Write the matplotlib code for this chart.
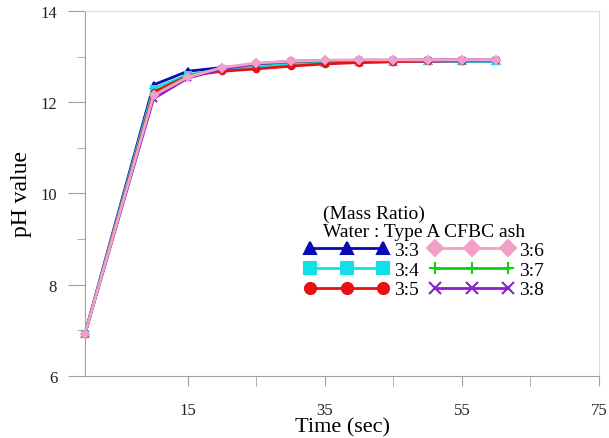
import matplotlib.pyplot as plt

plt.rcParams['font.family'] = ['Liberation Serif', 'DejaVu Serif']

time = [0, 10, 15, 20, 25, 30, 35, 40, 45, 50, 55, 60]
ph_33 = [6.93, 12.38, 12.68, 12.76, 12.80, 12.84, 12.86, 12.88, 12.89, 12.90, 12.90, 12.90]
ph_34 = [6.93, 12.30, 12.60, 12.72, 12.78, 12.83, 12.86, 12.88, 12.89, 12.90, 12.90, 12.90]
ph_35 = [6.93, 12.22, 12.58, 12.68, 12.73, 12.79, 12.84, 12.87, 12.89, 12.90, 12.91, 12.92]
ph_36 = [6.93, 12.15, 12.55, 12.76, 12.86, 12.90, 12.92, 12.93, 12.93, 12.93, 12.93, 12.93]
ph_37 = [6.93, 12.15, 12.57, 12.74, 12.84, 12.89, 12.91, 12.92, 12.92, 12.92, 12.92, 12.92]
ph_38 = [6.93, 12.08, 12.53, 12.73, 12.84, 12.90, 12.91, 12.92, 12.92, 12.93, 12.93, 12.93]

series = [
    ('3:3', ph_33, '#0a0ab4', '^', 2),
    ('3:4', ph_34, '#10e0e8', 's', 2),
    ('3:5', ph_35, '#e81010', 'o', 3),
    ('3:6', ph_36, '#f2a0c8', 'D', 6),
    ('3:7', ph_37, '#10d010', '+', 3),
    ('3:8', ph_38, '#8a20c8', 'x', 4),
]

fig = plt.figure(figsize=(6.09, 4.39), dpi=100)
ax = fig.add_axes([0.1396, 0.1412, 0.844, 0.8315])

for label, ys, color, marker, z in series:
    ax.plot(time, ys, color=color, marker=marker, markersize=4, lw=2, mew=1.5,
            label=label, zorder=z, clip_on=False)

ax.set_xlim(0, 75)
ax.set_ylim(6, 14)
ax.set_xticks([15, 35, 55, 75])
ax.set_xticks([25, 45, 65], minor=True)
ax.set_yticks([6, 8, 10, 12, 14])
ax.set_yticks([7, 9, 11, 13], minor=True)
ax.tick_params(which='both', direction='out', colors='#a0a0a0', labelcolor='#222222',
               labelsize=12)
ax.tick_params(axis='y', which='major', length=12, pad=8)
ax.tick_params(axis='y', which='minor', length=6)
ax.tick_params(axis='x', which='both', length=7, pad=12)
for s in ['left', 'bottom']:
    ax.spines[s].set_color('#a0a0a0')
for s in ['top', 'right']:
    ax.spines[s].set_color('#dcdcdc')

ax.set_xlabel('Time (sec)', fontsize=16, labelpad=-1)
ax.set_ylabel('pH value', fontsize=17, labelpad=6)

leg = ax.legend(title='(Mass Ratio)\nWater : Type A CFBC ash', ncol=2, frameon=False,
                fontsize=14, title_fontsize=14, markerscale=2.0, numpoints=3,
                handlelength=4.4, handletextpad=0.25, columnspacing=0.5,
                labelspacing=0.1, borderpad=0, alignment='center',
                loc='upper left', bbox_to_anchor=(294 / 609, 1 - 196 / 439),
                bbox_transform=fig.transFigure)
leg.get_title().set_linespacing(1.05)

fig.savefig('out.png', dpi=100)
